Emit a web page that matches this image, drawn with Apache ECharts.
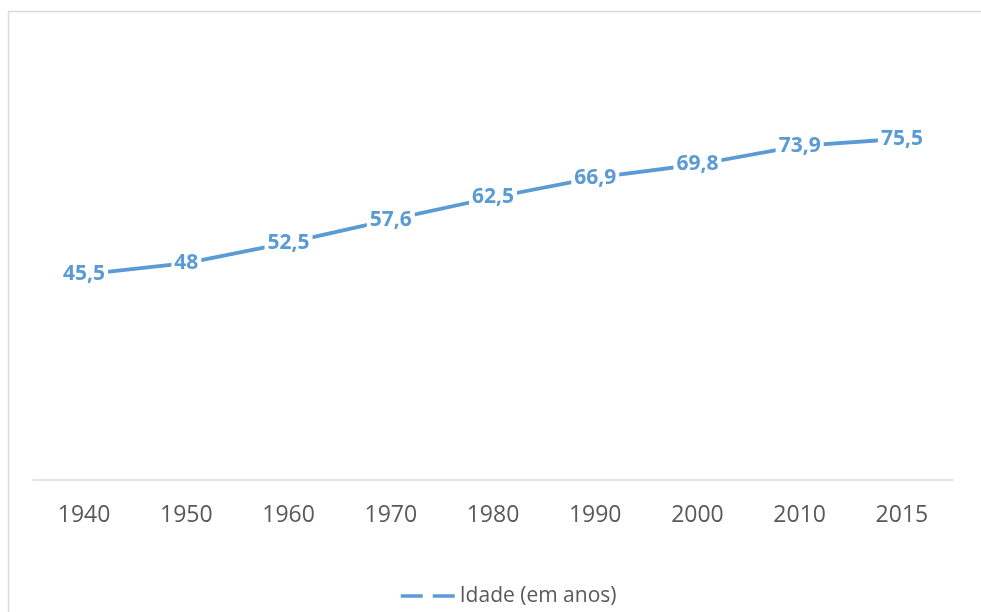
<!DOCTYPE html>
<html>
<head>
<meta charset="utf-8">
<script src="https://cdn.jsdelivr.net/npm/echarts@6/dist/echarts.min.js"></script>
<style>
  html, body { margin: 0; padding: 0; background: #fff; }
  #chart { width: 981px; height: 612px; }
</style>
</head>
<body>
<div id="chart"></div>
<script>
const years = ['1940', '1950', '1960', '1970', '1980', '1990', '2000', '2010', '2015'];
const idade = [45.5, 48, 52.5, 57.6, 62.5, 66.9, 69.8, 73.9, 75.5];
const seriesName = 'Idade (em anos)';

let myChart = echarts.init(document.getElementById('chart'));
let option = {
  animation: false,
  backgroundColor: '#fff',
  graphic: [{
    type: 'rect',
    shape: { x: 8.5, y: 11.5, width: 1100, height: 700 },
    style: { fill: 'none', stroke: '#d9d9d9', lineWidth: 1.5 },
    silent: true
  }],
  grid: { left: 33, right: 28, top: 28, bottom: 132 },
  legend: {
    data: [seriesName],
    left: 399,
    top: 584,
    padding: 0,
    itemWidth: 54,
    itemHeight: 12,
    itemGap: 5,
    itemStyle: { opacity: 0 },
    lineStyle: { type: [22, 10], width: 3.5, color: '#5B9BD5' },
    textStyle: { fontFamily: 'Open Sans', fontSize: 21, color: '#595959', lineHeight: 24 }
  },
  xAxis: {
    type: 'category',
    data: years,
    boundaryGap: true,
    axisLine: { lineStyle: { color: '#d9d9d9', width: 1.5 } },
    axisTick: { show: false },
    axisLabel: { margin: 24, fontFamily: 'Open Sans', fontSize: 23, color: '#595959' }
  },
  yAxis: {
    type: 'value',
    min: 0,
    max: 100,
    show: false
  },
  series: [{
    name: seriesName,
    type: 'line',
    data: idade,
    symbol: 'circle',
    symbolSize: 0,
    showSymbol: true,
    color: '#5B9BD5',
    lineStyle: { width: 3.8, color: '#5B9BD5' },
    label: {
      show: true,
      position: 'inside',
      formatter: p => String(p.value).replace('.', ','),
      fontFamily: 'Open Sans',
      fontWeight: 'bold',
      fontSize: 21,
      color: '#5B9BD5',
      backgroundColor: '#fff',
      padding: [0, 3]
    }
  }]
};
option && myChart.setOption(option);
</script>
</body>
</html>
